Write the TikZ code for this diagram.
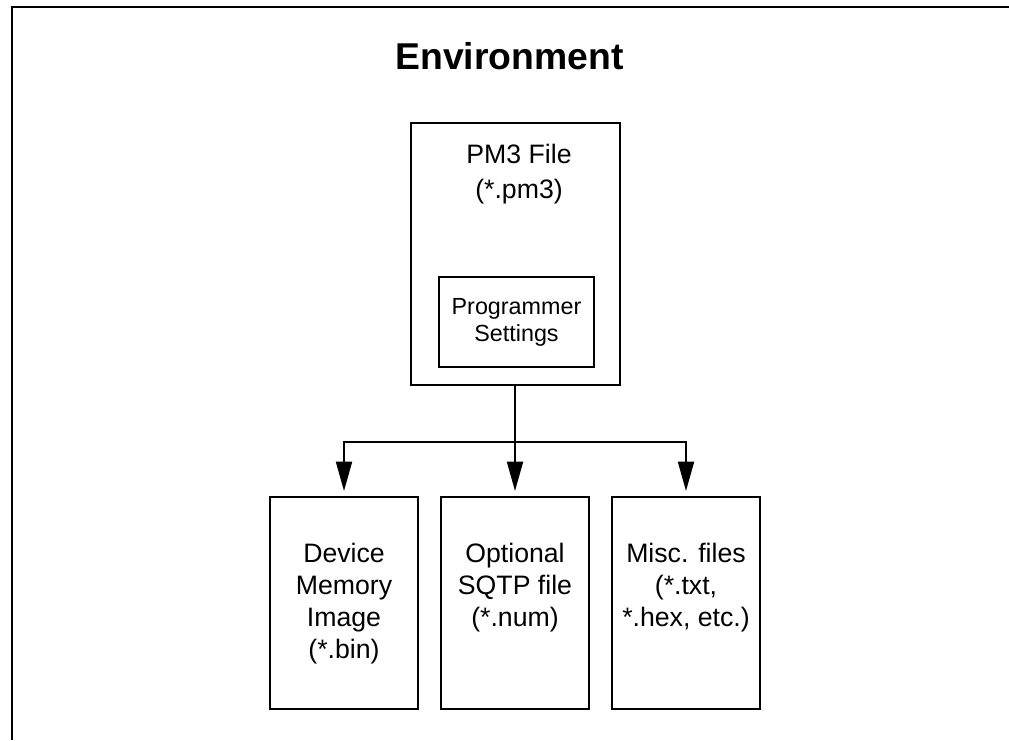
\documentclass[tikz,border=0pt]{standalone}
\usepackage{fontspec}
\setmainfont{Liberation Sans}
\usetikzlibrary{arrows.meta}

\begin{document}
\begin{tikzpicture}[x=0.75pt,y=-0.75pt,
		box/.style={draw, line width=1.5pt, minimum width=111pt, minimum height=159pt, inner sep=0pt},
		txt/.style={align=center, anchor=north, inner sep=0pt, font=\fontsize{20}{24}\selectfont},
		arr/.style={line width=1.4pt, -{Triangle[length=22pt,width=12pt]}, shorten >=3.75pt}]
		\useasboundingbox (0,0) rectangle (1009,740);
		\draw [line width=1.5pt] (1009,7) -- (12,7) -- (12,740);
		\node [anchor=base, font=\bfseries\fontsize{28}{34}\selectfont] (title) at (509.5,69) {Environment};
		\node [draw, line width=1.5pt, minimum width=156.75pt, minimum height=196.5pt] (pm3) at (515,254) {};
		\node [txt, font=\fontsize{20}{26}\selectfont] (pm3txt) at (519,144) {PM3 File\\(*.pm3)};
		\node [draw, line width=1.5pt, minimum width=116.25pt, minimum height=67.5pt, inner sep=0pt, align=center, font=\fontsize{17.5}{20.25}\selectfont] (prog) at (516.5,322) {Programmer\\Settings};
		\node [box] (dev) at (344,603) {};
		\node [box] (sqtp) at (515,603) {};
		\node [box] (misc) at (686,603) {};
		\node [txt] (devtxt) at (344,543) {Device\\Memory\\Image\\(*.bin)};
		\node [txt] (sqtptxt) at (515,543) {Optional\\SQTP file\\(*.num)};
		\node [txt] (misctxt) at (686,543) {Misc. files\\(*.txt,\\*.hex, etc.)};
		\coordinate (split) at (515,442);
		\draw [line width=1.4pt] (pm3) -- (split);
		\draw [arr] (split) -| (dev);
		\draw [arr] (split) -- (sqtp);
		\draw [arr] (split) -| (misc);
	\end{tikzpicture}
\end{document}
